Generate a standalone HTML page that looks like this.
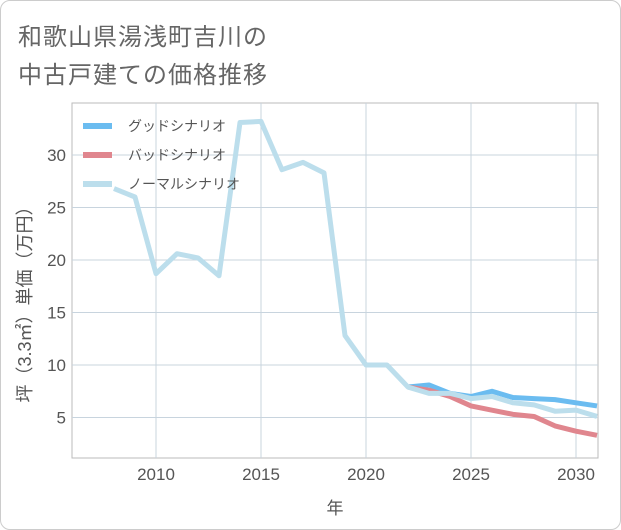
<!DOCTYPE html>
<html><head><meta charset="utf-8"><style>
body{margin:0;background:#fff;}
#card{position:absolute;left:0;top:0;width:619px;height:528px;border:1px solid #ccc;border-radius:10px;background:#fff;}
.t{position:absolute;left:17px;font:24px "Liberation Sans","Noto Sans CJK JP",sans-serif;color:#666;letter-spacing:1px;}
svg text{font-family:"Liberation Sans","Noto Sans CJK JP",sans-serif;}
</style></head><body>
<div id="card">
<div class="t" style="top:16px">和歌山県湯浅町吉川の</div>
<div class="t" style="top:54px">中古戸建ての価格推移</div>
</div>
<svg id="chart" width="621" height="530" style="position:absolute;left:0;top:0"></svg>
<script>
const years=[2008,2009,2010,2011,2012,2013,2014,2015,2016,2017,2018,2019,2020,2021,2022,2023,2024,2025,2026,2027,2028,2029,2030,2031];
const normal=[26.8,26.0,18.7,20.6,20.2,18.5,33.1,33.2,28.6,29.3,28.3,12.8,10.0,10.0,7.9,7.3,7.3,6.8,7.0,6.4,6.2,5.6,5.7,5.1];
const futureYears=[2022,2023,2024,2025,2026,2027,2028,2029,2030,2031];
const good=[7.9,8.1,7.3,7.0,7.5,6.9,6.8,6.7,6.4,6.1];
const bad=[7.9,7.6,7.0,6.1,5.7,5.3,5.1,4.2,3.7,3.3];
const xTicks=[2010,2015,2020,2025,2030];
const yTicks=[5,10,15,20,25,30];
const L=72,R=598,T=103,B=458;
const X=y=>156+(y-2010)*21;
const Y=v=>470-v*10.5;
const svg=document.getElementById('chart');
const NS='http://www.w3.org/2000/svg';
function mk(tag,attrs,name){const e=document.createElementNS(NS,tag);for(const k in attrs)e.setAttribute(k,attrs[k]);


svg.appendChild(e);return e;}
mk('rect',{x:L,y:T,width:R-L,height:B-T,fill:'none',stroke:'#bbb'},'plot-frame');
xTicks.forEach(t=>{mk('line',{x1:X(t),x2:X(t),y1:T,y2:B,stroke:'#c8d4de'},'x-gridline');
const tx=mk('text',{x:X(t),y:B+22,'text-anchor':'middle','font-size':17,fill:'#555'},'x-tick-label');tx.textContent=t;});
yTicks.forEach(t=>{mk('line',{x1:L,x2:R,y1:Y(t),y2:Y(t),stroke:'#c8d4de'},'y-gridline');
const tx=mk('text',{x:L-6,y:Y(t)+6,'text-anchor':'end','font-size':17,fill:'#555'},'y-tick-label');tx.textContent=t;});
const xl=mk('text',{x:335,y:514,'text-anchor':'middle','font-size':17,fill:'#555'},'x-axis-title');xl.textContent='年';
const yl=mk('text',{x:0,y:0,'text-anchor':'middle','font-size':18,fill:'#555',transform:'translate(31,300) rotate(-90)'},'y-axis-title');yl.textContent='坪（3.3㎡）単価（万円）';
const cp=mk('clipPath',{id:'cp'},'plot-clip');const cr=document.createElementNS(NS,'rect');cr.setAttribute('x',L);cr.setAttribute('y',T);cr.setAttribute('width',R-L);cr.setAttribute('height',B-T);cp.appendChild(cr);
function line(xs,vs,c,name){mk('polyline',{points:xs.map((y,i)=>X(y)+','+Y(vs[i])).join(' '),fill:'none',stroke:c,'stroke-width':5,'stroke-linejoin':'round','clip-path':'url(#cp)'},name);}
line(futureYears,good,'#6bbcf0','good-scenario-line');
line(futureYears,bad,'#e0868e','bad-scenario-line');
line(years,normal,'#bcdeec','normal-scenario-line');
[['グッドシナリオ','#6bbcf0'],['バッドシナリオ','#e0868e'],['ノーマルシナリオ','#bcdeec']].forEach((d,i)=>{const y=126+i*29;
mk('line',{x1:83,x2:112,y1:y,y2:y,stroke:d[1],'stroke-width':6},'legend-swatch');
const t=mk('text',{x:128,y:y+5,'font-size':14,fill:'#555'},'legend-entry');t.textContent=d[0];});
</script>
</body></html>
